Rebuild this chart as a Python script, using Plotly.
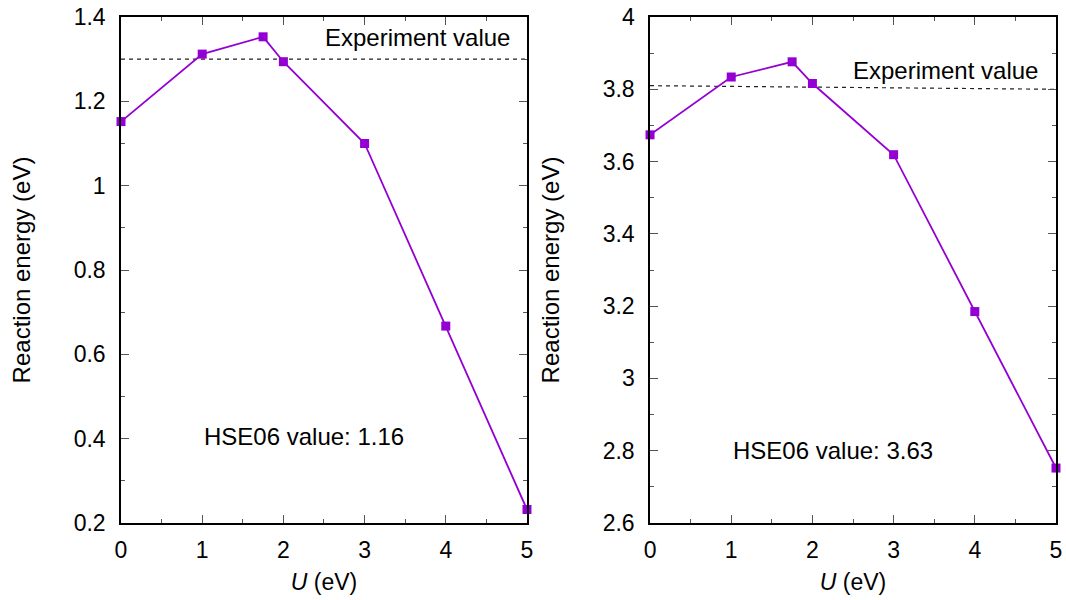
import plotly.graph_objects as go
from plotly.subplots import make_subplots

# Hubbard U values (eV)
u_values = [0, 1, 1.75, 2, 3, 4, 5]

# Reaction energies (eV) for the two reactions
energy_left = [1.152, 1.312, 1.353, 1.294, 1.100, 0.667, 0.232]
energy_right = [3.674, 3.834, 3.876, 3.816, 3.619, 3.185, 2.752]

# Experimental reference lines (start / end of U range)
exp_x = [0, 5]
exp_left = [1.30, 1.30]
exp_right = [3.81, 3.80]

hse_left = "1.16"
hse_right = "3.63"

violet = "#9400D3"
font_family = "Liberation Sans, Arial, sans-serif"

fig = make_subplots(rows=1, cols=2, horizontal_spacing=0.1316)

for col, energy, exp_y in [(1, energy_left, exp_left), (2, energy_right, exp_right)]:
    fig.add_trace(go.Scatter(
        x=exp_x, y=exp_y, mode="lines",
        line=dict(color="#222", width=1.2, dash="4px,4px"),
        showlegend=False, hoverinfo="skip"), row=1, col=col)
    fig.add_trace(go.Scatter(
        x=u_values, y=energy, mode="lines+markers",
        line=dict(color=violet, width=1.8),
        marker=dict(symbol="square", size=9, color=violet),
        showlegend=False, cliponaxis=False), row=1, col=col)

axis_common = dict(
    showgrid=False, zeroline=False, showline=True, linecolor="black", linewidth=1.5,
    mirror="ticks", ticks="inside", ticklen=8, tickwidth=1.2, tickcolor="#555",
    tickfont=dict(size=23, color="black", family=font_family),
    ticklabeloverflow="allow",
)
minor_common = dict(ticks="inside", ticklen=4, tickcolor="#555", tickwidth=1.2)
title_font = dict(size=24, family=font_family, color="black")

for col in (1, 2):
    fig.update_xaxes(
        range=[0, 5], dtick=1, tick0=0, ticklabelstandoff=6,
        minor=dict(dtick=0.5, **minor_common),
        title=dict(text="<i>U</i> (eV)", font=dict(size=23, family=font_family, color="black"), standoff=12),
        **axis_common, row=1, col=col)

fig.update_yaxes(
    range=[0.2, 1.4], dtick=0.2, tick0=0.2, ticklabelstandoff=9,
    minor=dict(dtick=0.1, **minor_common),
    title=dict(text="Reaction energy (eV)", font=title_font, standoff=36),
    **axis_common, row=1, col=1)
fig.update_yaxes(
    range=[2.6, 4.0], dtick=0.2, tick0=2.6, ticklabelstandoff=9,
    minor=dict(dtick=0.1, **minor_common),
    title=dict(text="Reaction energy (eV)", font=title_font, standoff=36),
    **axis_common, row=1, col=2)

ann_font = dict(size=24, family=font_family, color="black")
fig.add_annotation(x=4.82, y=1.352, xref="x", yref="y", text="Experiment value",
                   showarrow=False, xanchor="right", yanchor="middle", font=ann_font)
fig.add_annotation(x=2.25, y=0.404, xref="x", yref="y", text="HSE06 value: " + hse_left,
                   showarrow=False, xanchor="center", yanchor="middle", font=ann_font)
fig.add_annotation(x=4.80, y=3.852, xref="x2", yref="y2", text="Experiment value",
                   showarrow=False, xanchor="right", yanchor="middle", font=ann_font)
fig.add_annotation(x=2.25, y=2.80, xref="x2", yref="y2", text="HSE06 value: " + hse_right,
                   showarrow=False, xanchor="center", yanchor="middle", font=ann_font)

fig.update_layout(
    width=1066, height=600,
    margin=dict(l=121, r=4, t=16, b=77),
    paper_bgcolor="white", plot_bgcolor="white",
    font=dict(family=font_family, color="black"),
)
fig.update_xaxes(domain=[0, 0.4342], row=1, col=1)
fig.update_xaxes(domain=[0.5658, 1.0], row=1, col=2)

fig.write_html("out.html")
